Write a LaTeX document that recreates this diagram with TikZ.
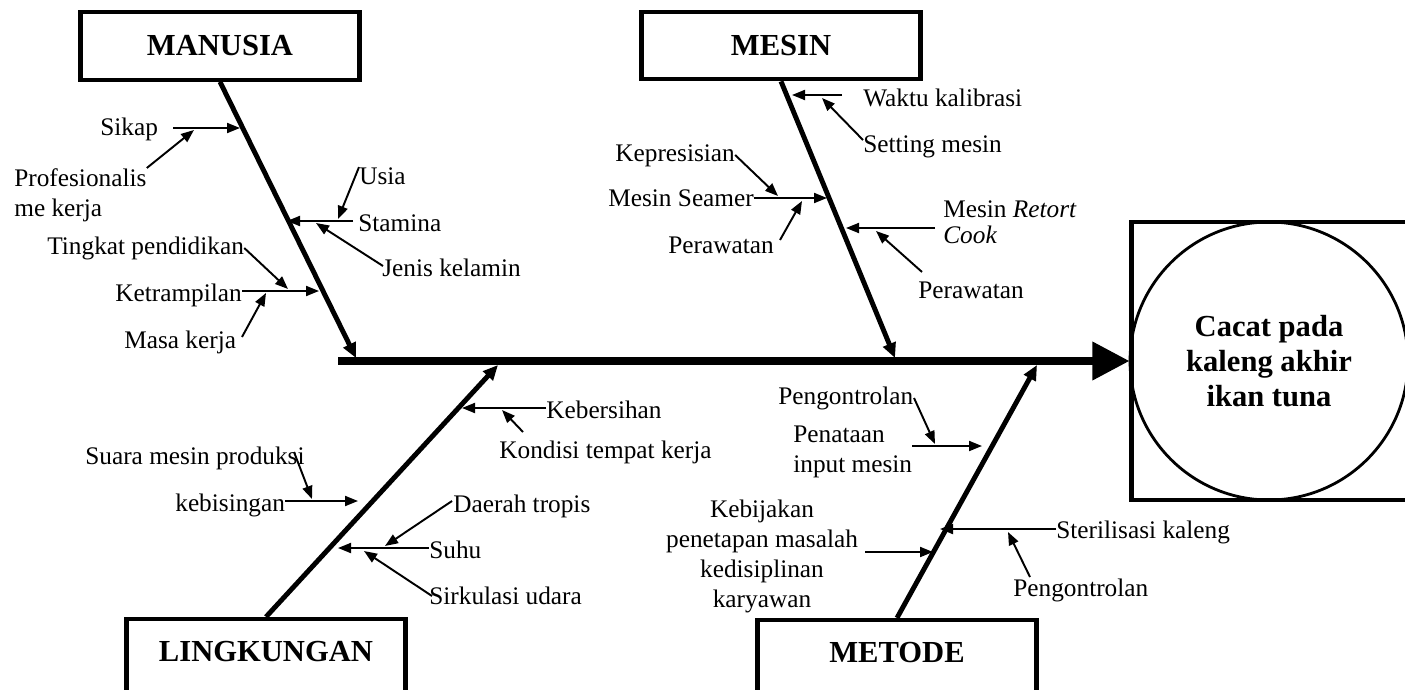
\documentclass[tikz,border=0pt]{standalone}
\usepackage{fontspec}
\setmainfont{Liberation Serif}
\usetikzlibrary{arrows.meta,positioning}

\begin{document}
\begin{tikzpicture}[
    x=0.02cm, y=-0.02cm,
    catbox/.style={rectangle, draw, line width=2.4pt, minimum width=5.58cm, minimum height=1.35cm, font=\fontsize{17.4}{20}\selectfont\bfseries},
    cause/.style={inner sep=0pt, anchor=west, font=\fontsize{14.4}{17}\selectfont, text height=9.5pt, text depth=2.5pt},
    multi/.style={inner sep=0pt, font=\fontsize{14.4}{17}\selectfont},
    bone/.style={line width=2.8pt, -{Triangle[length=0.3cm,width=0.26cm]}},
    sub/.style={line width=1.1pt, -{Triangle[length=0.26cm,width=0.2cm]}}
]

\useasboundingbox (0,0) rectangle (1405,689);

% Category boxes
\node[catbox] (manusia) at (220,46) {MANUSIA};
\node[catbox] (mesin) at (781,45.5) {MESIN};
\node[catbox, minimum height=1.48cm, text height=12pt, text depth=6pt] (lingkungan) at (266,656) {LINGKUNGAN};
\node[catbox, minimum height=1.48cm, text height=12pt, text depth=6pt] (metode) at (897,657) {METODE};

% Effect
\node[draw, line width=2.4pt, minimum width=5.8cm, minimum height=5.56cm] (effectbox) at (1276.5,361) {};
\node[circle, draw, line width=1.6pt, minimum size=5.56cm, inner sep=0pt, align=center, font=\fontsize{17.4}{20}\selectfont\bfseries] (effect) at (1269,361) {Cacat pada\\kaleng akhir\\ikan tuna};

% Spine
\coordinate (tail) at (338,361);
\draw[line width=4pt, -{Triangle[length=0.74cm,width=0.74cm]}] (tail) -- (tail -| effectbox.west);

% Bones
\coordinate (manusiaEnd) at (356,358);
\coordinate (mesinEnd) at (895,358);
\coordinate (lingkunganEnd) at (498,365);
\coordinate (metodeEnd) at (1037,365);
\draw[bone] (manusia.south) -- (manusiaEnd);
\draw[bone] (mesin.south) -- (mesinEnd);
\draw[bone] (lingkungan.north) -- (lingkunganEnd);
\draw[bone] (metode.north) -- (metodeEnd);

% MANUSIA causes
\node[cause] (sikap) at (100,129) {Sikap};
\node[multi, anchor=north west, align=left] (profesionalis) at (14,168) {Profesionalis\\me kerja};
\node[cause] (usia) at (359,178) {Usia};
\node[cause] (stamina) at (358,225) {Stamina};
\node[cause] (jenis) at (382,270) {Jenis kelamin};
\node[cause] (tingkat) at (47,248) {Tingkat pendidikan};
\node[cause] (ketrampilan) at (115,295) {Ketrampilan};
\node[cause] (masa) at (124,342) {Masa kerja};

\coordinate (sikapA) at (173,128);
\coordinate (sikapB) at (240,128);
\coordinate (profB) at (194,130);
\coordinate (usiaB) at (338,219);
\coordinate (staminaA) at (353,221);
\coordinate (staminaB) at (287,221);
\coordinate (jenisA) at (383,266);
\coordinate (jenisB) at (316,223);
\coordinate (tingkatB) at (288,289);
\coordinate (ketrampilanB) at (319,291);
\coordinate (masaA) at (242,337);
\coordinate (masaB) at (266,293);
\draw[sub] (sikapA) -- (sikapB);
\draw[sub] (profesionalis.north east) -- (profB);
\draw[sub] (usia.north west) -- (usiaB);
\draw[sub] (staminaA) -- (staminaB);
\draw[sub] (jenisA) -- (jenisB);
\draw[sub] (tingkat.east) -- (tingkatB);
\draw[sub] (ketrampilan.east |- ketrampilanB) -- (ketrampilanB);
\draw[sub] (masaA) -- (masaB);

% MESIN causes
\node[cause] (waktu) at (863,100) {Waktu kalibrasi};
\node[cause] (setting) at (863,146) {Setting mesin};
\node[cause] (kepresisian) at (615,155) {Kepresisian};
\node[cause] (seamer) at (608,200) {Mesin Seamer};
\node[cause] (perawatan1) at (668,247) {Perawatan};
\node[multi, anchor=north west, align=left, font=\fontsize{14.4}{15}\selectfont] (retort) at (943,200) {Mesin \textit{Retort}\\\textit{Cook}};
\node[cause] (perawatan2) at (918,292) {Perawatan};

\coordinate (waktuA) at (842,95);
\coordinate (waktuB) at (792,95);
\coordinate (settingA) at (863,140);
\coordinate (settingB) at (822,98);
\coordinate (kepresisianB) at (778,196);
\coordinate (seamerB) at (827,198);
\coordinate (perawatan1A) at (780,240);
\coordinate (perawatan1B) at (802,201);
\coordinate (retortA) at (935,228);
\coordinate (retortB) at (846,228);
\coordinate (perawatan2A) at (922,272);
\coordinate (perawatan2B) at (876,231);
\draw[sub] (waktuA) -- (waktuB);
\draw[sub] (settingA) -- (settingB);
\draw[sub] (kepresisian.east) -- (kepresisianB);
\draw[sub] (seamer.east |- seamerB) -- (seamerB);
\draw[sub] (perawatan1A) -- (perawatan1B);
\draw[sub] (retortA) -- (retortB);
\draw[sub] (perawatan2A) -- (perawatan2B);

% LINGKUNGAN causes
\node[cause] (kebersihan) at (546,412) {Kebersihan};
\node[cause] (kondisi) at (499,452) {Kondisi tempat kerja};
\node[cause] (suara) at (85,458) {Suara mesin produksi};
\node[cause] (kebisingan) at (175,505) {kebisingan};
\node[cause] (daerah) at (453,506) {Daerah tropis};
\node[cause] (suhu) at (429,552) {Suhu};
\node[cause] (sirkulasi) at (429,598) {Sirkulasi udara};

\coordinate (kebersihanB) at (462,408);
\coordinate (kondisiA) at (523,432);
\coordinate (kondisiB) at (502,410);
\coordinate (suaraA) at (294,452);
\coordinate (suaraB) at (312,499);
\coordinate (kebisinganB) at (358,501);
\coordinate (daerahA) at (452,501);
\coordinate (daerahB) at (385,546);
\coordinate (suhuB) at (338,548);
\coordinate (sirkulasiA) at (432,596);
\coordinate (sirkulasiB) at (364,551);
\draw[sub] (kebersihan.west |- kebersihanB) -- (kebersihanB);
\draw[sub] (kondisiA) -- (kondisiB);
\draw[sub] (suaraA) -- (suaraB);
\draw[sub] (kebisingan.east |- kebisinganB) -- (kebisinganB);
\draw[sub] (daerahA) -- (daerahB);
\draw[sub] (suhu.west |- suhuB) -- (suhuB);
\draw[sub] (sirkulasiA) -- (sirkulasiB);

% METODE causes
\node[cause] (pengontrolan1) at (778,398) {Pengontrolan};
\node[multi, anchor=north west, align=left] (penataan) at (793,426) {Penataan\\input mesin};
\node[multi, anchor=north, align=center] (kebijakan) at (762,500) {Kebijakan\\penetapan masalah\\kedisiplinan\\karyawan};
\node[cause] (sterilisasi) at (1056,532) {Sterilisasi kaleng};
\node[cause] (pengontrolan2) at (1013,590) {Pengontrolan};

\coordinate (kontrol1A) at (914,398);
\coordinate (kontrol1B) at (935,444);
\coordinate (penataanA) at (912,446);
\coordinate (penataanB) at (982,446);
\coordinate (kebijakanA) at (865,552);
\coordinate (kebijakanB) at (933,552);
\coordinate (sterilisasiB) at (940,529);
\coordinate (kontrol2A) at (1030,577);
\coordinate (kontrol2B) at (1008,532);
\draw[sub] (kontrol1A) -- (kontrol1B);
\draw[sub] (penataanA) -- (penataanB);
\draw[sub] (kebijakanA) -- (kebijakanB);
\draw[sub] (sterilisasi.west |- sterilisasiB) -- (sterilisasiB);
\draw[sub] (kontrol2A) -- (kontrol2B);

\end{tikzpicture}
\end{document}
